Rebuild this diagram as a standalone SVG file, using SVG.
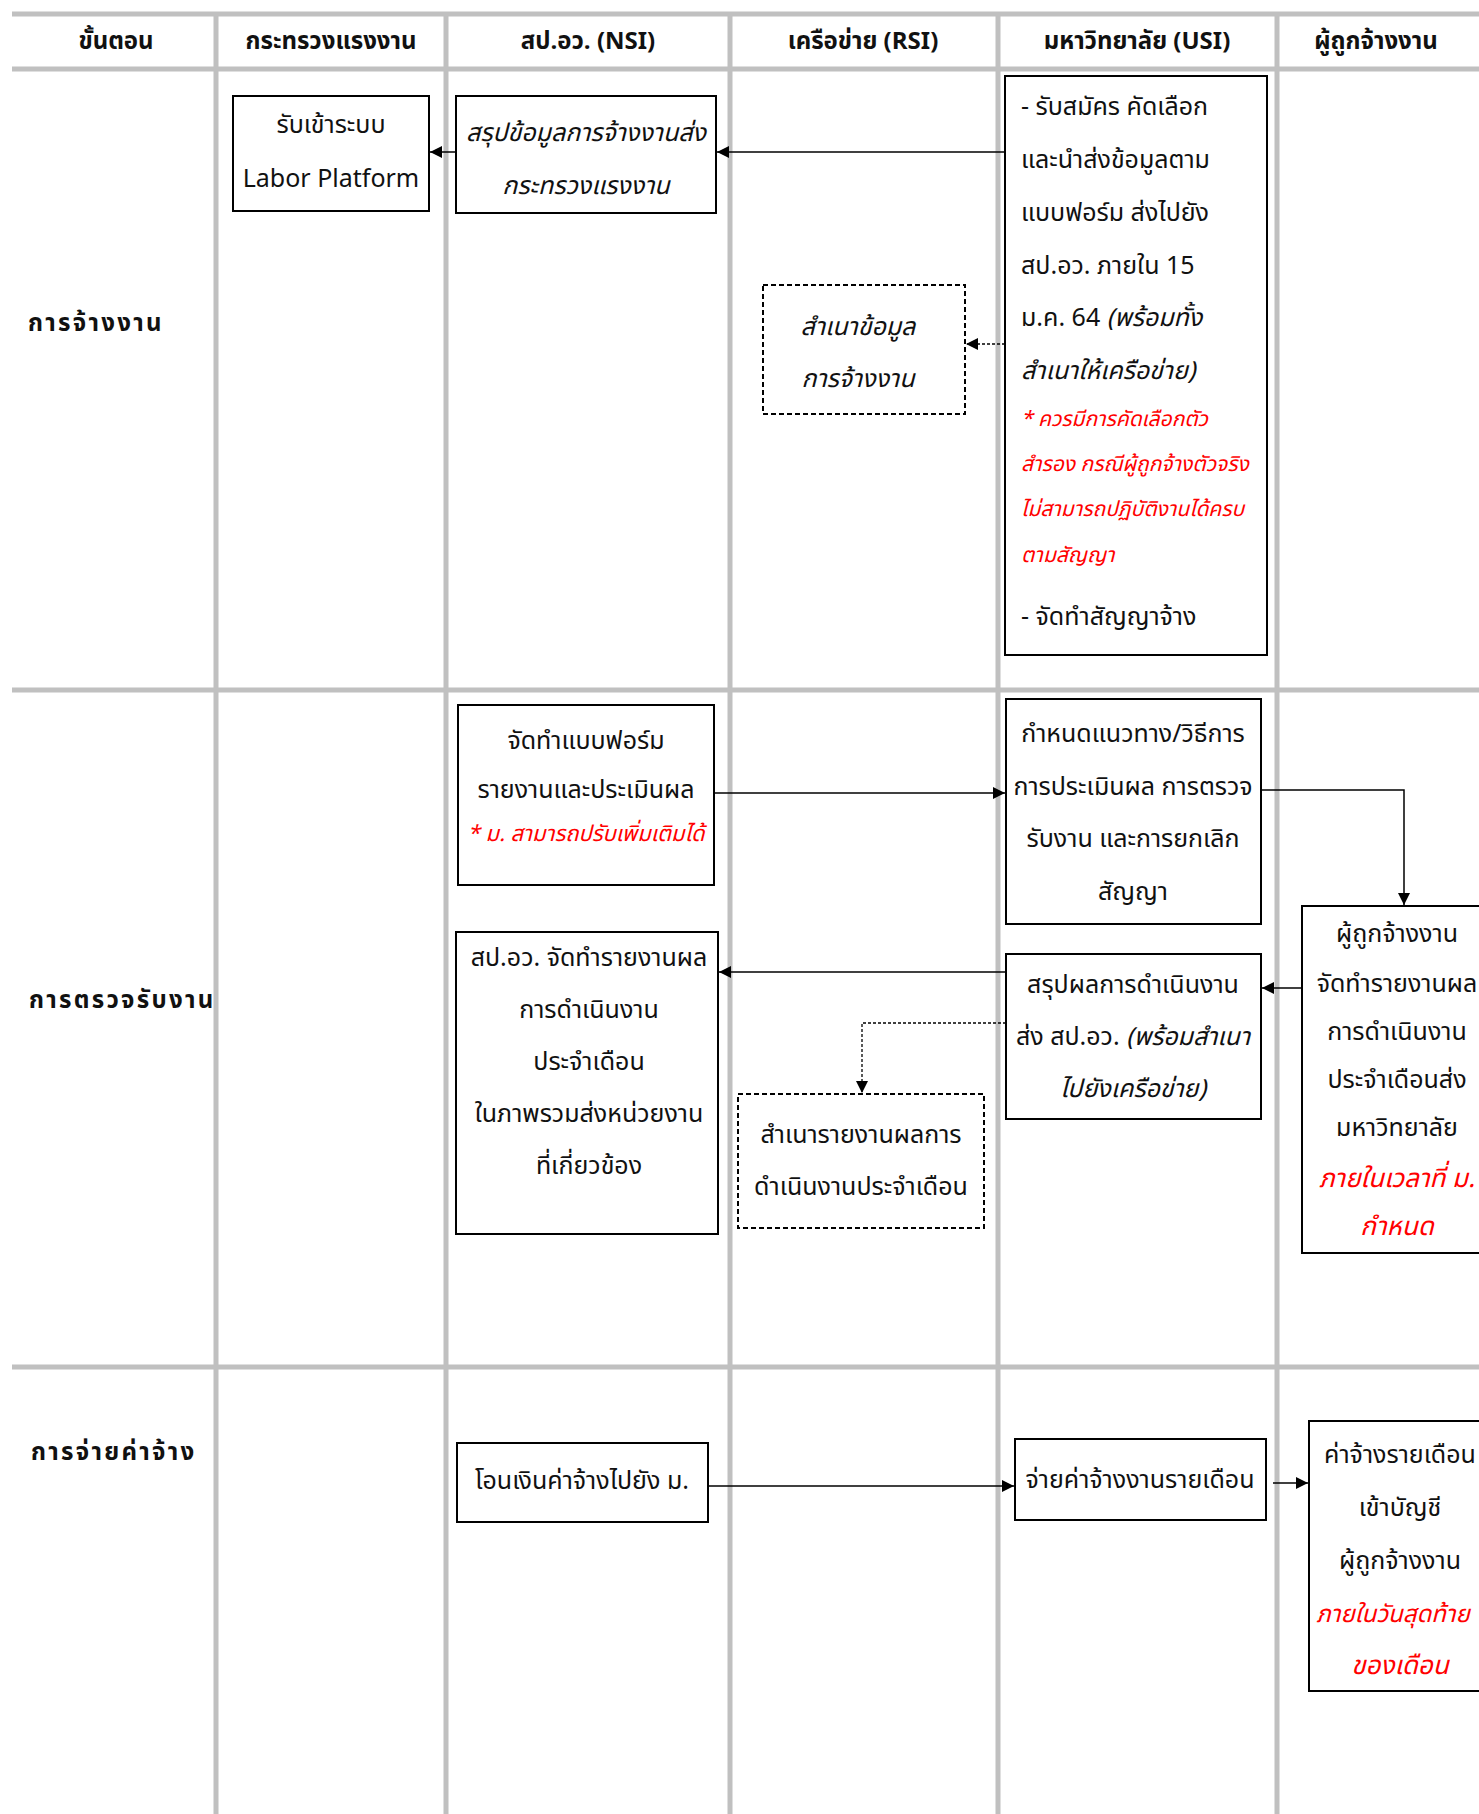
<svg xmlns="http://www.w3.org/2000/svg" width="1479" height="1814" viewBox="0 0 1479 1814">
<style>
text{font-family:"Noto Sans Thai","Noto Sans","DejaVu Sans",sans-serif;fill:#111;font-size:25px}
.h{font-weight:bold;font-size:24px;text-anchor:middle}
.r{font-weight:bold;font-size:24px;letter-spacing:2.3px}
.c{text-anchor:middle}
.i{font-style:italic}
.red{fill:#ff0000;font-style:italic;font-size:22px}
.red2{fill:#ff0000;font-style:italic;font-size:21px}
.red3{fill:#ff0000;font-style:italic;font-size:26px}
.box{fill:#fff;stroke:#000;stroke-width:2}
.dbox{fill:#fff;stroke:#000;stroke-width:2;stroke-dasharray:5,3}
.grid{stroke:#c0c0c0;stroke-width:5;fill:none}
.ln{stroke:#000;stroke-width:1.5;fill:none}
.dl{stroke:#000;stroke-width:1.3;fill:none;stroke-dasharray:3,2}
</style>
<defs>
<marker id="ah" viewBox="0 0 12 12" refX="12" refY="6" markerWidth="12" markerHeight="12" markerUnits="userSpaceOnUse" orient="auto">
<path d="M0,0 L12,6 L0,12 z" fill="#000"/>
</marker>
</defs>
<rect width="1479" height="1814" fill="#fff"/>
<g id="grid">
<line class="grid" x1="12" y1="14" x2="1479" y2="14"/>
<line class="grid" x1="12" y1="69" x2="1479" y2="69"/>
<line class="grid" x1="12" y1="690" x2="1479" y2="690"/>
<line class="grid" x1="12" y1="1367" x2="1479" y2="1367"/>
<line class="grid" x1="216" y1="12" x2="216" y2="1814"/>
<line class="grid" x1="446" y1="12" x2="446" y2="1814"/>
<line class="grid" x1="730" y1="12" x2="730" y2="1814"/>
<line class="grid" x1="998" y1="12" x2="998" y2="1814"/>
<line class="grid" x1="1277" y1="12" x2="1277" y2="1814"/>
</g>
<g id="headers">
<text class="h" x="116" y="49">ขั้นตอน</text>
<text class="h" x="331" y="49">กระทรวงแรงงาน</text>
<text class="h" x="588" y="49">สป.อว. (NSI)</text>
<text class="h" x="863" y="49">เครือข่าย (RSI)</text>
<text class="h" x="1137" y="49">มหาวิทยาลัย (USI)</text>
<text class="h" x="1376" y="49">ผู้ถูกจ้างงาน</text>
</g>
<g id="rows">
<text class="r" x="28" y="331">การจ้างงาน</text>
<text class="r" x="29" y="1008">การตรวจรับงาน</text>
<text class="r" x="31" y="1460">การจ่ายค่าจ้าง</text>
</g>
<g id="connectors">
<line class="ln" x1="1005" y1="152" x2="717" y2="152" marker-end="url(#ah)"/>
<line class="ln" x1="456" y1="152" x2="430" y2="152" marker-end="url(#ah)"/>
<line class="dl" x1="1005" y1="344" x2="966" y2="344" marker-end="url(#ah)"/>
<line class="ln" x1="714" y1="793" x2="1005" y2="793" marker-end="url(#ah)"/>
<polyline class="ln" points="1261,790 1404,790 1404,905" marker-end="url(#ah)"/>
<line class="ln" x1="1302" y1="988" x2="1262" y2="988" marker-end="url(#ah)"/>
<line class="ln" x1="1006" y1="972" x2="719" y2="972" marker-end="url(#ah)"/>
<polyline class="dl" points="1006,1023 862,1023 862,1093" marker-end="url(#ah)"/>
<line class="ln" x1="708" y1="1486" x2="1014" y2="1486" marker-end="url(#ah)"/>
<line class="ln" x1="1273" y1="1483" x2="1308" y2="1483" marker-end="url(#ah)"/>
</g>
<g id="n1">
<rect class="box" x="233" y="96" width="196" height="115"/>
<text class="c" x="331" y="133">รับเข้าระบบ</text>
<text class="c" x="331" y="187">Labor Platform</text>
</g>
<g id="n2">
<rect class="box" x="456" y="96" width="260" height="117"/>
<text class="c i" x="586" y="141">สรุปข้อมูลการจ้างงานส่ง</text>
<text class="c i" x="586" y="194">กระทรวงแรงงาน</text>
</g>
<g id="n3">
<rect class="box" x="1005" y="76" width="262" height="579"/>
<text x="1021" y="115">- รับสมัคร คัดเลือก</text>
<text x="1021" y="168">และนำส่งข้อมูลตาม</text>
<text x="1021" y="221">แบบฟอร์ม ส่งไปยัง</text>
<text x="1021" y="274">สป.อว. ภายใน 15</text>
<text x="1021" y="326">ม.ค. 64 <tspan class="i">(พร้อมทั้ง</tspan></text>
<text class="i" x="1021" y="379">สำเนาให้เครือข่าย)</text>
<text class="red2" x="1021" y="426">* ควรมีการคัดเลือกตัว</text>
<text class="red2" x="1021" y="471">สำรอง กรณีผู้ถูกจ้างตัวจริง</text>
<text class="red2" x="1021" y="516">ไม่สามารถปฏิบัติงานได้ครบ</text>
<text class="red2" x="1021" y="562">ตามสัญญา</text>
<text x="1021" y="625">- จัดทำสัญญาจ้าง</text>
</g>
<g id="n4">
<rect class="dbox" x="763" y="285" width="202" height="129"/>
<text class="c i" x="858" y="335">สำเนาข้อมูล</text>
<text class="c i" x="858" y="387">การจ้างงาน</text>
</g>
<g id="n5">
<rect class="box" x="458" y="705" width="256" height="180"/>
<text class="c" x="586" y="749">จัดทำแบบฟอร์ม</text>
<text class="c" x="586" y="798">รายงานและประเมินผล</text>
<text class="c red" x="586" y="841">* ม. สามารถปรับเพิ่มเติมได้</text>
</g>
<g id="n6">
<rect class="box" x="1006" y="699" width="255" height="225"/>
<text class="c" x="1133" y="742">กำหนดแนวทาง/วิธีการ</text>
<text class="c" x="1133" y="795">การประเมินผล การตรวจ</text>
<text class="c" x="1133" y="847">รับงาน และการยกเลิก</text>
<text class="c" x="1133" y="900">สัญญา</text>
</g>
<g id="n7">
<rect class="box" x="1302" y="906" width="190" height="347"/>
<text class="c" x="1397" y="942">ผู้ถูกจ้างงาน</text>
<text class="c" x="1397" y="992">จัดทำรายงานผล</text>
<text class="c" x="1397" y="1040">การดำเนินงาน</text>
<text class="c" x="1397" y="1088">ประจำเดือนส่ง</text>
<text class="c" x="1397" y="1136">มหาวิทยาลัย</text>
<text class="c red3" x="1397" y="1187">ภายในเวลาที่ ม.</text>
<text class="c red3" x="1397" y="1235">กำหนด</text>
</g>
<g id="n8">
<rect class="box" x="1006" y="954" width="255" height="165"/>
<text class="c" x="1133" y="993">สรุปผลการดำเนินงาน</text>
<text class="c" x="1133" y="1045">ส่ง สป.อว. <tspan class="i">(พร้อมสำเนา</tspan></text>
<text class="c i" x="1133" y="1097">ไปยังเครือข่าย)</text>
</g>
<g id="n9">
<rect class="box" x="456" y="932" width="262" height="302"/>
<text class="c" x="589" y="966">สป.อว. จัดทำรายงานผล</text>
<text class="c" x="589" y="1018">การดำเนินงาน</text>
<text class="c" x="589" y="1070">ประจำเดือน</text>
<text class="c" x="589" y="1122">ในภาพรวมส่งหน่วยงาน</text>
<text class="c" x="589" y="1174">ที่เกี่ยวข้อง</text>
</g>
<g id="n10">
<rect class="dbox" x="738" y="1094" width="246" height="134"/>
<text class="c" x="861" y="1143">สำเนารายงานผลการ</text>
<text class="c" x="861" y="1195">ดำเนินงานประจำเดือน</text>
</g>
<g id="n11">
<rect class="box" x="457" y="1443" width="251" height="79"/>
<text class="c" x="582" y="1489">โอนเงินค่าจ้างไปยัง ม.</text>
</g>
<g id="n12">
<rect class="box" x="1015" y="1439" width="251" height="81"/>
<text class="c" x="1140" y="1488">จ่ายค่าจ้างงานรายเดือน</text>
</g>
<g id="n13">
<rect class="box" x="1309" y="1421" width="190" height="270"/>
<text class="c" x="1400" y="1463">ค่าจ้างรายเดือน</text>
<text class="c" x="1400" y="1516">เข้าบัญชี</text>
<text class="c" x="1400" y="1569">ผู้ถูกจ้างงาน</text>
<text class="c red3" x="1393" y="1622" style="font-size:24px">ภายในวันสุดท้าย</text>
<text class="c red3" x="1400" y="1674">ของเดือน</text>
</g>
</svg>
